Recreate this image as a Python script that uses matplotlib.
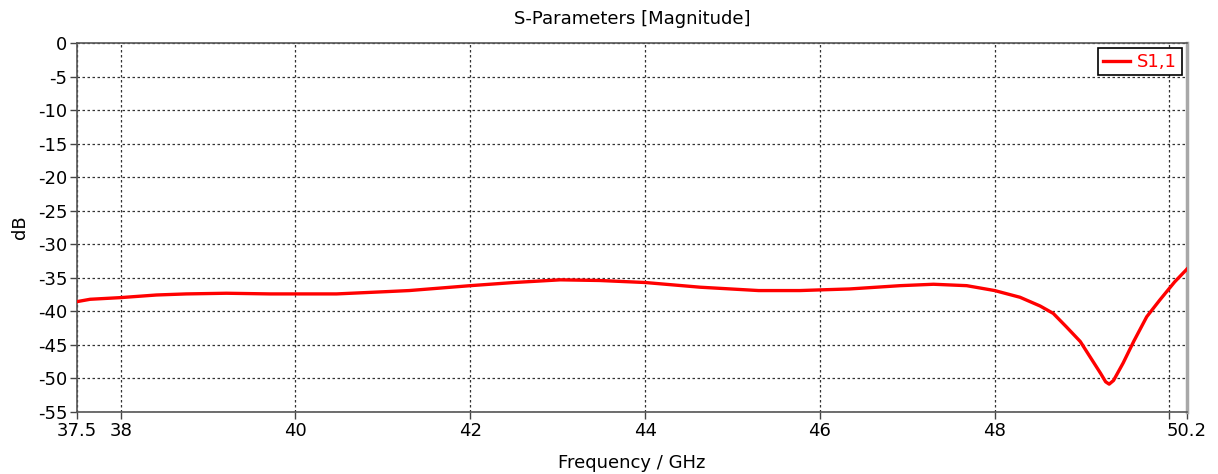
import matplotlib.pyplot as plt

# S1,1 magnitude vs frequency
freq_ghz = [37.5, 37.65, 38.0, 38.41, 38.75, 39.21, 39.71, 40.47, 41.04, 41.3,
            42.0, 42.5, 43.03, 43.48, 44.0, 44.63, 45.3, 45.77, 46.0, 46.34,
            46.92, 47.3, 47.68, 48.0, 48.29, 48.52, 48.67, 48.82, 48.98, 49.09,
            49.21, 49.27, 49.31, 49.36, 49.47, 49.59, 49.74, 49.89, 50.06, 50.2]
s11_db = [-38.55, -38.2, -37.95, -37.56, -37.4, -37.3, -37.4, -37.4, -37.06, -36.9,
          -36.17, -35.7, -35.3, -35.4, -35.7, -36.4, -36.9, -36.9, -36.8, -36.66,
          -36.17, -35.96, -36.17, -36.9, -37.9, -39.2, -40.3, -42.3, -44.5, -46.75,
          -49.2, -50.5, -50.85, -50.3, -47.7, -44.5, -40.8, -38.3, -35.6, -33.7]

x_ticks = [37.5, 38, 40, 42, 44, 46, 48, 50, 50.2]
x_labels = ["37.5", "38", "40", "42", "44", "46", "48", "", "50.2"]
y_ticks = list(range(-55, 1, 5))

plt.rcParams["font.family"] = ["DejaVu Sans"]
plt.rcParams["axes.unicode_minus"] = False

fig = plt.figure(figsize=(12.18, 4.74), dpi=100)
ax = fig.add_axes([0.0632, 0.1308, 0.9745 - 0.0632, 0.9093 - 0.1308])

ax.plot(freq_ghz, s11_db, color="#ff0000", linewidth=2.4, label="S1,1",
        solid_joinstyle="round", zorder=3)

ax.set_xlim(37.5, 50.2)
ax.set_ylim(-55, 0)
ax.set_xticks(x_ticks)
ax.set_xticklabels(x_labels)
ax.set_yticks(y_ticks)
ax.tick_params(axis="both", labelsize=13, length=5, width=1, color="#444444",
               direction="out", pad=2)
ax.tick_params(top=False, right=False)

ax.grid(True, color="#333333", linestyle=(0, (2, 2)), linewidth=0.9)

for side in ["left", "bottom", "top"]:
    ax.spines[side].set_color("#555555")
    ax.spines[side].set_linewidth(1.2)
ax.spines["right"].set_color("#a8a8a8")
ax.spines["right"].set_linewidth(2.5)

ax.set_title("S-Parameters [Magnitude]", fontsize=13, pad=14)
ax.set_xlabel("Frequency / GHz", fontsize=13, labelpad=10)
ax.set_ylabel("dB", fontsize=13, labelpad=6)

leg = ax.legend(loc="upper right", fontsize=13, frameon=True, fancybox=False,
                handlelength=1.5, handletextpad=0.4, borderpad=0.25,
                borderaxespad=0.3, labelcolor="#ff0000")
leg.get_frame().set_edgecolor("black")
leg.get_frame().set_linewidth(1.2)
leg.get_frame().set_alpha(1)

fig.savefig("out.png", dpi=100)
